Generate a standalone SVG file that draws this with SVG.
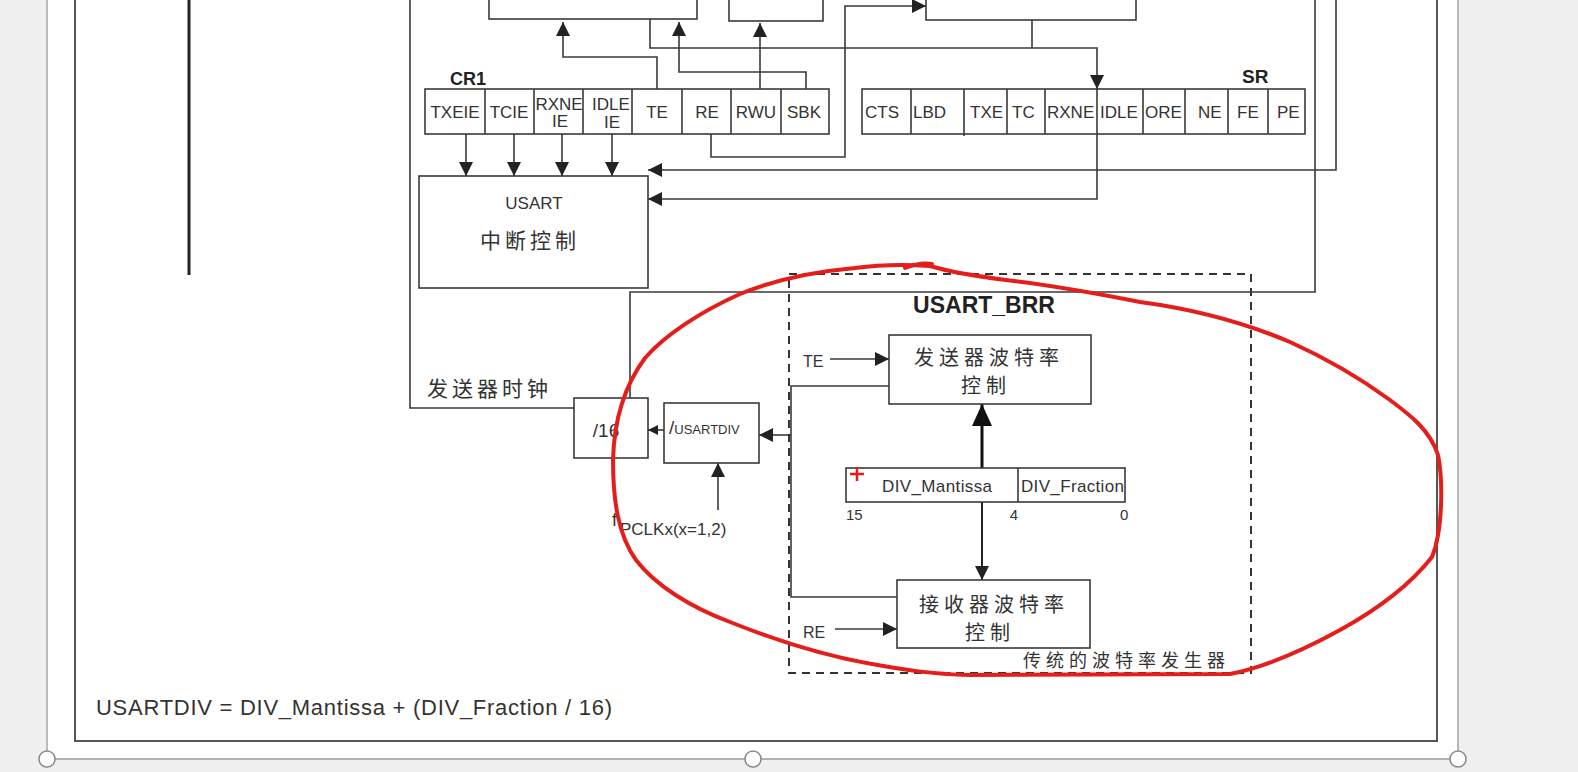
<svg xmlns="http://www.w3.org/2000/svg" width="1578" height="772" viewBox="0 0 1578 772">
<style>
.ln{fill:none;stroke:#3a3a3a;stroke-width:1.6}
.box{fill:#fff;stroke:#3a3a3a;stroke-width:1.6}
.t{font-family:"Liberation Sans",Arial,sans-serif;fill:#333}
.c{font-family:"Liberation Sans","Noto Sans CJK SC",sans-serif;fill:#333}
.m{text-anchor:middle}
.b{font-weight:bold;fill:#222}
.red{fill:none;stroke:#e41e1a;stroke-width:4;stroke-linecap:round;stroke-linejoin:round}
</style>
<defs>
<marker id="a" viewBox="0 0 14 14" refX="14" refY="7" markerWidth="14" markerHeight="14" markerUnits="userSpaceOnUse" orient="auto"><path d="M0,0 L14,7 L0,14 Z" fill="#222"/></marker>
<marker id="s" viewBox="0 0 10 10" refX="10" refY="5" markerWidth="10" markerHeight="10" markerUnits="userSpaceOnUse" orient="auto"><path d="M0,0 L10,5 L0,10 Z" fill="#222"/></marker>
<marker id="big" viewBox="0 0 22 20" refX="22" refY="10" markerWidth="22" markerHeight="20" markerUnits="userSpaceOnUse" orient="auto"><path d="M0,0 L22,10 L0,20 Z" fill="#111"/></marker>
</defs>
<rect x="0" y="0" width="1578" height="772" fill="#f0f0f0"/>
<rect x="47" y="-2" width="1411" height="761" fill="#fff"/>
<path d="M47,-2 V759 H1458 V-2" fill="none" stroke="#9a9a9a" stroke-width="1.3"/>
<g fill="#fff" stroke="#8a8a8a" stroke-width="1.5"><circle cx="47" cy="759" r="8"/><circle cx="753" cy="759" r="8"/><circle cx="1458" cy="759" r="8"/></g>
<rect x="75" y="-5" width="1362" height="746" fill="none" stroke="#444" stroke-width="1.8"/>
<line x1="189" y1="0" x2="189" y2="275" stroke="#222" stroke-width="3"/>

<g id="top-boxes">
<rect class="box" x="489" y="-10" width="208" height="29"/>
<rect class="box" x="729" y="-10" width="94" height="31"/>
<rect class="box" x="926" y="-10" width="210" height="30"/>
</g>

<g id="connectors">
<path class="ln" d="M657,89 V57 H563 V22" marker-end="url(#a)"/>
<path class="ln" d="M650,19 V48 H1097 V89" marker-end="url(#a)"/>
<path class="ln" d="M1032,20 V48"/>
<path class="ln" d="M1097,134 V199 H648" marker-end="url(#a)"/>
<path class="ln" d="M806,89 V72 H679 V22" marker-end="url(#a)"/>
<path class="ln" d="M760,89 V23" marker-end="url(#a)"/>
<path class="ln" d="M711,134 V157 H845 V6 H926" marker-end="url(#a)"/>
<path class="ln" d="M410,-5 V408 H575"/>
<path class="ln" d="M1315,-5 V292 H630 V398"/>
<path class="ln" d="M1336,-5 V170 H648" marker-end="url(#a)"/>
<path class="ln" d="M466,134 V176" marker-end="url(#a)"/>
<path class="ln" d="M514,134 V176" marker-end="url(#a)"/>
<path class="ln" d="M562,134 V176" marker-end="url(#a)"/>
<path class="ln" d="M612,134 V176" marker-end="url(#a)"/>
<path class="ln" d="M664,430 H648" marker-end="url(#s)"/>
<path class="ln" d="M889,386 H791 V597 H897"/>
<path class="ln" d="M791,435 H759" marker-end="url(#a)"/>
<path class="ln" d="M718,510 V463" marker-end="url(#a)"/>
<path class="ln" d="M830,359 H889" marker-end="url(#a)"/>
<path class="ln" d="M835,629 H897" marker-end="url(#a)"/>
<path d="M982,468 V404" fill="none" stroke="#111" stroke-width="3" marker-end="url(#big)"/>
<path d="M982,502 V580" fill="none" stroke="#222" stroke-width="2" marker-end="url(#a)"/>
</g>

<g id="cr1">
<text class="t b" x="450" y="85" font-size="18">CR1</text>
<rect class="box" x="425" y="89" width="404" height="45"/>
<path class="ln" d="M485,89V134M534,89V134M583,89V134M632,89V134M682,89V134M731,89V134M781,89V134"/>
<g class="t m" font-size="17">
<text x="455" y="118">TXEIE</text>
<text x="509" y="118">TCIE</text>
<text x="559" y="110">RXNE</text>
<text x="560" y="127">IE</text>
<text x="611" y="110">IDLE</text>
<text x="612" y="128">IE</text>
<text x="657" y="118">TE</text>
<text x="707" y="118">RE</text>
<text x="756" y="118">RWU</text>
<text x="804" y="118">SBK</text>
</g>
</g>

<g id="sr">
<text class="t b" x="1242" y="83" font-size="19">SR</text>
<rect class="box" x="862" y="89" width="443" height="45"/>
<path class="ln" d="M911,89V134M964,89V136M1007,89V134M1045,89V134M1097,89V134M1143,89V134M1185,89V134M1228,89V134M1268,89V134"/>
<g class="t" font-size="17">
<text x="865" y="118">CTS</text>
<text x="913" y="118">LBD</text>
<text x="970" y="118">TXE</text>
<text x="1012" y="118">TC</text>
<text x="1047" y="118">RXNE</text>
<text x="1100" y="118">IDLE</text>
<text x="1145" y="118">ORE</text>
<text x="1198" y="118">NE</text>
<text x="1237" y="118">FE</text>
<text x="1277" y="118">PE</text>
</g>
</g>

<g id="usart-int">
<rect class="box" x="419" y="176" width="229" height="112"/>
<text class="t m" x="534" y="209" font-size="17">USART</text>
<text class="c" x="480" y="248" font-size="21" letter-spacing="4">中断控制</text>
</g>

<g id="tx-clock-label">
<text class="c" x="427" y="396" font-size="21" letter-spacing="4">发送器时钟</text>
</g>

<g id="div16">
<rect class="box" x="574" y="398" width="74" height="60"/>
<text class="t m" x="606" y="437" font-size="19">/16</text>
</g>

<g id="usartdiv">
<rect class="box" x="664" y="403" width="95" height="60"/>
<text class="t" x="669" y="434" font-size="19">/<tspan font-size="13">USARTDIV</tspan></text>
</g>

<g id="fpclk">
<text class="t" x="612" y="526" font-size="18">f<tspan x="620" y="535" font-size="17">PCLKx(x=1,2)</tspan></text>
</g>

<g id="brr">
<rect x="789" y="274" width="462" height="399" fill="none" stroke="#333" stroke-width="2" stroke-dasharray="8,6"/>
<text class="t b m" x="984" y="313" font-size="23">USART_BRR</text>
<text class="t" x="803" y="367" font-size="16">TE</text>
<text class="t" x="803" y="638" font-size="16">RE</text>
<text class="c" x="1230" y="667" font-size="18" text-anchor="end" letter-spacing="5">传统的波特率发生器</text>
</g>

<g id="tx-baud">
<rect class="box" x="889" y="335" width="202" height="69"/>
<text class="c m" x="989" y="365" font-size="20" letter-spacing="5">发送器波特率</text>
<text class="c m" x="986" y="393" font-size="20" letter-spacing="5">控制</text>
</g>

<g id="rx-baud">
<rect class="box" x="897" y="580" width="193" height="68"/>
<text class="c m" x="994" y="612" font-size="20" letter-spacing="5">接收器波特率</text>
<text class="c m" x="990" y="640" font-size="20" letter-spacing="5">控制</text>
</g>

<g id="div-reg">
<rect class="box" x="846" y="468" width="279" height="34"/>
<path class="ln" d="M1018,468V502"/>
<text class="t" x="882" y="492" font-size="17" textLength="110">DIV_Mantissa</text>
<text class="t" x="1021" y="492" font-size="17" textLength="103">DIV_Fraction</text>
<text class="t" x="846" y="520" font-size="15">15</text>
<text class="t" x="1018" y="520" font-size="15" text-anchor="end">4</text>
<text class="t" x="1120" y="520" font-size="15">0</text>
</g>

<g id="formula">
<text class="t" x="96" y="715" font-size="22" textLength="516">USARTDIV = DIV_Mantissa + (DIV_Fraction / 16)</text>
</g>

<g id="annotation">
<path class="red" d="M930,266 C900,264 870,266 855,268 C810,272 774,280 740,294 C700,312 665,335 645,358 C625,385 614,420 613,460 C613,500 618,535 636,560 C655,585 690,607 730,622 C770,638 820,655 872,664 C905,670 930,674 970,675 L1230,674 C1260,668 1300,652 1340,630 C1380,608 1410,585 1432,557 C1443,530 1443,480 1438,455 C1430,430 1410,415 1390,400 C1360,378 1330,360 1290,342 C1250,325 1200,310 1140,302 C1090,292 1040,284 1006,280 C975,276 950,272 930,266"/>
<path class="red" d="M905,268 C915,264 925,263 932,264" stroke-width="3"/>
<path d="M850,474 H864 M857,467 V481" stroke="#e41e1a" stroke-width="2.5"/>
</g>
</svg>
